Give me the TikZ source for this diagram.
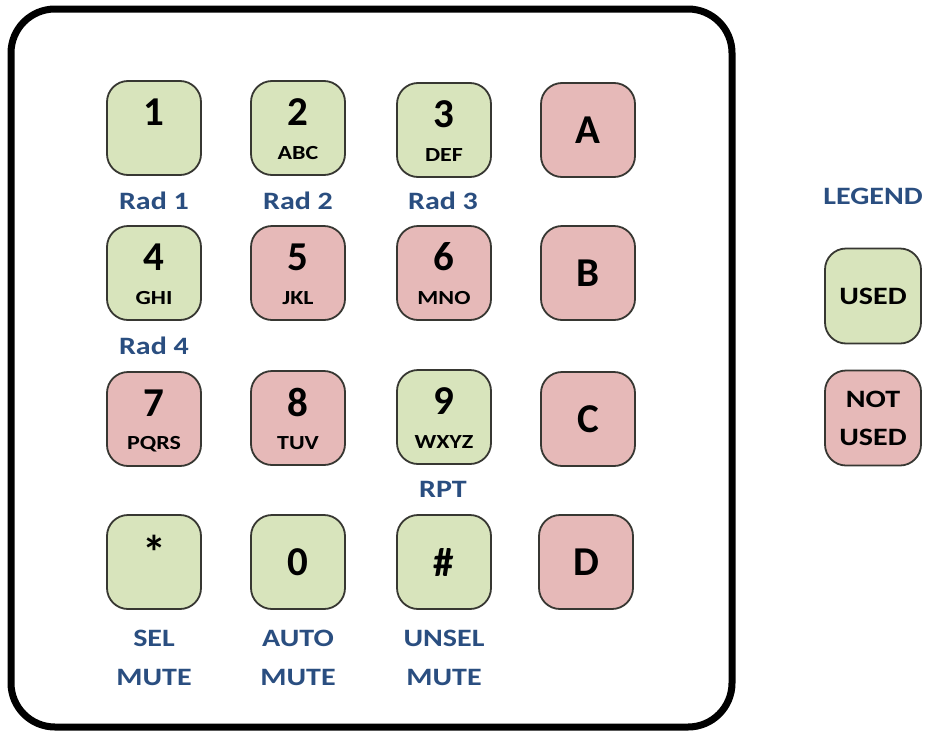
\documentclass[tikz,border=0pt]{standalone}
\usepackage{fontspec}
\setmainfont{Carlito}
\usepackage{graphicx}
\definecolor{usedc}{RGB}{216,228,188}
\definecolor{notc}{RGB}{230,185,184}
\definecolor{lblc}{RGB}{42,78,128}
\definecolor{keyline}{RGB}{55,55,50}
\newcommand\sx[1]{\scalebox{1.2}[1]{#1}}
\begin{document}
\begin{tikzpicture}[x=1pt,y=-1pt,
  key/.style={draw=keyline, line width=1.8pt, rounded corners=21pt, minimum width=94pt, minimum height=94pt, inner sep=0pt},
  used/.style={key, fill=usedc},
  notused/.style={key, fill=notc},
  big/.style={font=\fontsize{41}{41}\selectfont\bfseries, inner sep=0pt},
  small/.style={font=\fontsize{20}{20}\selectfont\bfseries, inner sep=0pt},
  lbl/.style={font=\fontsize{25}{25}\selectfont\bfseries, text=lblc, inner sep=0pt},
  lgd/.style={font=\fontsize{25}{25}\selectfont\bfseries, inner sep=0pt}]
\useasboundingbox (0,0) rectangle (928,731);
\draw[line width=7pt, rounded corners=44pt] (11,9) rectangle (732,727);
% row 1
\node[used] (k1) at (154,128) {};
\node[big] (k1d) at ([yshift=16pt]k1.center) {1};
\node[used] (k2) at (298,128) {};
\node[big] (k2d) at ([yshift=16pt]k2.center) {2};
\node[small] (k2l) at ([yshift=-25pt]k2.center) {\sx{ABC}};
\node[used] (k3) at (444,130) {};
\node[big] (k3d) at ([yshift=16pt]k3.center) {3};
\node[small] (k3l) at ([yshift=-25pt]k3.center) {\sx{DEF}};
\node[notused] (kA) at (588,130) {};
\node[big] (kAd) at (kA.center) {A};
% row 2
\node[used] (k4) at (154,273) {};
\node[big] (k4d) at ([yshift=16pt]k4.center) {4};
\node[small] (k4l) at ([yshift=-25pt]k4.center) {\sx{GHI}};
\node[notused] (k5) at (298,273) {};
\node[big] (k5d) at ([yshift=16pt]k5.center) {5};
\node[small] (k5l) at ([yshift=-25pt]k5.center) {\sx{JKL}};
\node[notused] (k6) at (444,273) {};
\node[big] (k6d) at ([yshift=16pt]k6.center) {6};
\node[small] (k6l) at ([yshift=-25pt]k6.center) {\sx{MNO}};
\node[notused] (kB) at (588,273) {};
\node[big] (kBd) at (kB.center) {B};
% row 3
\node[notused] (k7) at (154,419) {};
\node[big] (k7d) at ([yshift=16pt]k7.center) {7};
\node[small] (k7l) at ([yshift=-25pt]k7.center) {\sx{PQRS}};
\node[notused] (k8) at (298,418) {};
\node[big] (k8d) at ([yshift=16pt]k8.center) {8};
\node[small] (k8l) at ([yshift=-25pt]k8.center) {\sx{TUV}};
\node[used] (k9) at (444,417) {};
\node[big] (k9d) at ([yshift=16pt]k9.center) {9};
\node[small] (k9l) at ([yshift=-25pt]k9.center) {\sx{WXYZ}};
\node[notused] (kC) at (588,419) {};
\node[big] (kCd) at (kC.center) {C};
% row 4
\node[used] (ks) at (154,562) {};
\node[big, font=\fontsize{48}{48}\selectfont\bfseries] (ksd) at ([yshift=10pt]ks.center) {*};
\node[used] (k0) at (298,562) {};
\node[big] (k0d) at (k0.center) {0};
\node[used] (kh) at (444,562) {};
\node[big] (khd) at (kh.center) {\#};
\node[notused] (kD) at (586,562) {};
\node[big] (kDd) at (kD.center) {D};
% labels
\node[lbl] (r1) at (154,201) {\sx{Rad 1}};
\node[lbl] (r2) at (298,201) {\sx{Rad 2}};
\node[lbl] (r3) at (443,201) {\sx{Rad 3}};
\node[lbl] (r4) at (154,346) {\sx{Rad 4}};
\node[lbl] (rpt) at (443,489) {\sx{RPT}};
\node[lbl] (sel) at (154,638) {\sx{SEL}};
\node[lbl] (selm) at (154,677) {\sx{MUTE}};
\node[lbl] (aut) at (298,638) {\sx{AUTO}};
\node[lbl] (autm) at (298,677) {\sx{MUTE}};
\node[lbl] (uns) at (444,638) {\sx{UNSEL}};
\node[lbl] (unsm) at (444,677) {\sx{MUTE}};
% legend
\node[lbl] (leg) at (873,196) {\sx{LEGEND}};
\node[used, minimum width=96pt, minimum height=95pt] (lu) at (873,296) {};
\node[lgd] (lut) at (lu.center) {\sx{USED}};
\node[notused, minimum width=96pt, minimum height=95pt] (ln) at (873,418) {};
\node[lgd] (lnt1) at ([yshift=19pt]ln.center) {\sx{NOT}};
\node[lgd] (lnt2) at ([yshift=-19pt]ln.center) {\sx{USED}};
\end{tikzpicture}
\end{document}
